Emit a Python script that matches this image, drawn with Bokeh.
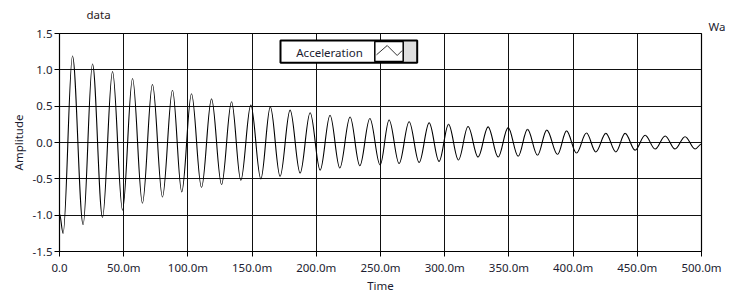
from bokeh.plotting import figure
from bokeh.models import Range1d, FixedTicker, Label, ColumnDataSource, Title
from bokeh.embed import file_html
from bokeh.resources import INLINE

# ---- data (time in ms, acceleration) : successive extrema ----
time_ms = [0.0, 2.8, 10.1, 18.4, 25.7, 33.5, 41.3, 49.1, 56.9, 64.6, 72.4, 80.2, 88.0,
           95.2, 102.8, 110.6, 118.4, 126.2, 134.0, 141.2, 149.0, 156.8, 164.2, 171.8,
           179.6, 187.4, 195.2, 203.0, 210.7, 218.3, 226.3, 233.9, 241.7, 249.7, 256.7,
           264.5, 272.3, 280.1, 287.9, 295.6, 303.0, 310.7, 318.2, 326.0, 333.8, 341.6,
           349.4, 357.2, 364.5, 372.3, 379.5, 387.9, 394.9, 402.6, 410.4, 417.7, 425.5,
           433.3, 440.5, 448.3, 456.1, 463.9, 471.7, 479.4, 487.2, 495.0, 500.0]
acceleration = [-0.98, -1.25, 1.19, -1.13, 1.08, -1.03, 0.975, -0.93, 0.88, -0.835, 0.80,
                 -0.75, 0.72, -0.68, 0.67, -0.62, 0.60, -0.58, 0.56, -0.52, 0.515, -0.50,
                 0.49, -0.465, 0.445, -0.42, 0.41, -0.38, 0.375, -0.35, 0.35, -0.32, 0.33,
                 -0.31, 0.31, -0.29, 0.285, -0.275, 0.27, -0.26, 0.25, -0.24, 0.22, -0.20,
                 0.215, -0.20, 0.205, -0.19, 0.18, -0.175, 0.17, -0.165, 0.16, -0.145, 0.13,
                 -0.13, 0.125, -0.13, 0.125, -0.105, 0.10, -0.09, 0.09, -0.09, 0.08, -0.09,
                 -0.02]
x_ticks = [0, 50, 100, 150, 200, 250, 300, 350, 400, 450, 500]
x_tick_labels = ["0.0", "50.0m", "100.0m", "150.0m", "200.0m", "250.0m", "300.0m",
                 "350.0m", "400.0m", "450.0m", "500.0m"]
y_ticks = [-1.5, -1.0, -0.5, 0.0, 0.5, 1.0, 1.5]
y_tick_labels = ["-1.5", "-1.0", "-0.5", "0.0", "0.5", "1.0", "1.5"]
series_name = "Acceleration"
plot_label = "data"
graph_label = "Wa"

# ---- layout ----
W, H = 728, 298
FL, FR, FT, FB = 59, 701, 33, 251  # frame edges (figure px)
X0, X1, Y0, Y1 = 0, 500, -1.5, 1.5
FONT = "Noto Sans"
TXT = "#1c1c30"


def px_x(fx):
    return X0 + (fx - FL) / (FR - FL) * (X1 - X0)


def px_y(fy):
    return Y1 - (fy - FT) / (FB - FT) * (Y1 - Y0)


p = figure(width=W, height=H, output_backend="svg", toolbar_location=None, title=None,
           x_range=Range1d(X0, X1), y_range=Range1d(Y0, Y1),
           min_border_left=FL, min_border_right=W - FR,
           min_border_top=FT, min_border_bottom=H - FB,
           background_fill_color="white", border_fill_color="white")
p.outline_line_color = "black"
p.outline_line_width = 1.2

p.xaxis.ticker = FixedTicker(ticks=x_ticks)
p.yaxis.ticker = FixedTicker(ticks=y_ticks)
p.xaxis.major_label_overrides = {t: l for t, l in zip(x_ticks, x_tick_labels)}
p.yaxis.major_label_overrides = {t: l for t, l in zip(y_ticks, y_tick_labels)}
p.xaxis.axis_label = "Time"
p.yaxis.axis_label = "Amplitude"
for ax in (p.xaxis, p.yaxis):
    ax.major_tick_out = 5
    ax.major_tick_in = 0
    ax.minor_tick_line_color = None
    ax.axis_line_color = "black"
    ax.major_tick_line_color = "black"
    ax.major_label_text_font = FONT
    ax.major_label_text_font_size = "11.5px"
    ax.major_label_text_color = TXT
    ax.axis_label_text_font = FONT
    ax.axis_label_text_font_size = "11.5px"
    ax.axis_label_text_font_style = "normal"
    ax.axis_label_text_color = TXT
p.xaxis.major_label_standoff = 3
p.yaxis.major_label_standoff = 2
p.xaxis.axis_label_standoff = 0
p.yaxis.axis_label_standoff = 4

p.xgrid.ticker = FixedTicker(ticks=x_ticks)
p.ygrid.ticker = FixedTicker(ticks=y_ticks)
for g in (p.xgrid, p.ygrid):
    g.grid_line_color = "#111111"
    g.grid_line_alpha = 1.0
    g.grid_line_width = 1

# ---- waveform: smooth segments between successive extrema ----
x0 = time_ms[:-1]
x1 = time_ms[1:]
y0 = acceleration[:-1]
y1 = acceleration[1:]
k = 0.36
cx0 = [a + k * (b - a) for a, b in zip(x0, x1)]
cx1 = [b - k * (b - a) for a, b in zip(x0, x1)]
src = ColumnDataSource(dict(x0=x0, y0=y0, x1=x1, y1=y1, cx0=cx0, cy0=y0, cx1=cx1, cy1=y1))
p.bezier(x0="x0", y0="y0", x1="x1", y1="y1", cx0="cx0", cy0="cy0", cx1="cx1", cy1="cy1",
         source=src, line_color="black", line_width=1.1)

# ---- LabVIEW-style legend box ----
LL, LR, LT, LB = 280, 416.7, 40, 62.3
SL, SR, ST, SB = 374.3, 402.7, 41, 61
p.quad(left=[px_x(SR)], right=[px_x(LR)], top=[px_y(LT)], bottom=[px_y(LB)],
       fill_color="#dedede", line_color=None)
p.quad(left=[px_x(LL)], right=[px_x(SR)], top=[px_y(LT)], bottom=[px_y(LB)],
       fill_color="white", line_color=None)
p.quad(left=[px_x(SL)], right=[px_x(SR)], top=[px_y(ST)], bottom=[px_y(SB)],
       fill_color="white", line_color="black", line_width=1.5)
p.quad(left=[px_x(LL)], right=[px_x(LR)], top=[px_y(LT)], bottom=[px_y(LB)],
       fill_color=None, line_color="black", line_width=2)
p.line(x=[px_x(376), px_x(386.7), px_x(396.7), px_x(401.7)],
       y=[px_y(54.3), px_y(45), px_y(55), px_y(50)], line_color="#333333", line_width=1)
p.add_layout(Label(x=px_x(329), y=px_y(51.5), text=series_name, text_align="center",
                   text_baseline="middle", text_font=FONT, text_font_size="11.5px",
                   text_color=TXT))

# ---- texts above the frame (titles; first added sits nearest the frame) ----
p.add_layout(Title(text=graph_label, align="left", offset=708 - FL, standoff=0,
                   text_font=FONT, text_font_size="11.5px", text_font_style="normal",
                   text_color=TXT), "above")
p.add_layout(Title(text=plot_label, align="left", offset=86 - FL, standoff=-11,
                   text_font=FONT, text_font_size="11.5px", text_font_style="normal",
                   text_color="#2a1a1a"), "above")

open("out.html", "w").write(file_html(p, INLINE))
